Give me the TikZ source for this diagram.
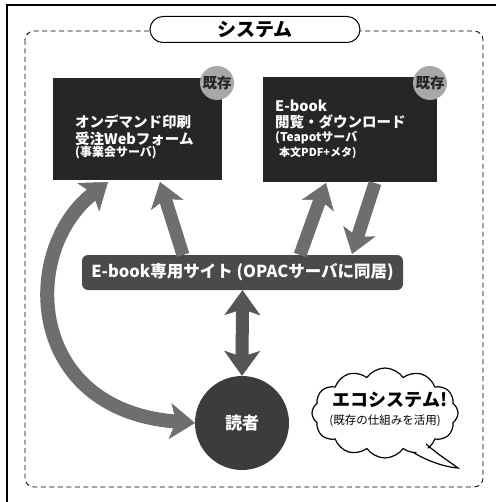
\documentclass[tikz,border=0pt]{standalone}
\usepackage{fontspec}
\setmainfont{Noto Sans CJK JP}
\usetikzlibrary{arrows.meta,shapes.symbols}
\definecolor{boxdark}{HTML}{262626}
\definecolor{bardark}{HTML}{4A4A4A}
\definecolor{arrowgray}{HTML}{6E6E6E}
\definecolor{arrowdark}{HTML}{555555}
\definecolor{badgegray}{HTML}{A8A8A8}
\tikzset{
  sysbox/.style={draw=none, fill=boxdark, inner sep=0pt},
  badge/.style={circle, fill=badgegray, minimum size=34pt, inner sep=0pt, font=\bfseries\fontsize{14.5}{14.5}\selectfont, text=black!85},
  wtext/.style={text=white, anchor=west, inner sep=0pt, font=\bfseries\fontsize{14.5}{15}\selectfont},
  wsmall/.style={text=white, anchor=west, inner sep=0pt, font=\bfseries\fontsize{12}{12}\selectfont},
  fatarrow/.style={line width=13pt, draw=arrowgray, -{Stealth[width=34pt,length=24pt,inset=6pt,line width=0.5pt]}},
  fatdouble/.style={line width=14pt, draw=arrowgray, {Stealth[width=36pt,length=25pt,inset=6pt,line width=0.5pt]}-{Stealth[width=36pt,length=25pt,inset=6pt,line width=0.5pt]}},
}
\begin{document}
\begin{tikzpicture}[x=1pt,y=-1pt]
\useasboundingbox (0,0) rectangle (495,502);
% outer frame
\draw[line width=1.6pt] (7,505) -- (7,5) -- (498,5);
% dashed container
\draw[dashed, dash pattern=on 5pt off 3.5pt, rounded corners=9pt, line width=0.8pt] (25,31) rectangle (483,487);
% title pill
\node[draw, line width=1pt, fill=white, rounded corners=13pt, minimum width=210pt, minimum height=26pt, inner sep=0pt, font=\bfseries\fontsize{19}{19}\selectfont] (title) at (255,29.5) {システム};

% boxes
\node[sysbox, minimum width=169pt, minimum height=102pt] (lbox) at (137.5,129) {};
\node[sysbox, minimum width=174pt, minimum height=105pt] (rbox) at (350,129.5) {};
\node[badge] (lbadge) at (217,83) {既存};
\node[badge] (rbadge) at (430,83) {既存};

\node[wtext] (l1) at (75,122) {オンデマンド印刷};
\node[wtext] (l2) at (75,138.5) {受注Webフォーム};
\node[wsmall] (l3) at (75,153) {(事業会サーバ)};

\node[wtext] (r1) at (275,106) {E-book};
\node[wtext] (r2) at (275,122) {閲覧・ダウンロード};
\node[wsmall] (r3) at (275,138) {(Teapotサーバ};
\node[text=white, anchor=west, inner sep=0pt, font=\bfseries\fontsize{11}{11}\selectfont] (r4) at (279,153) {本文PDF+メタ)};

% bar
\node[fill=bardark, rounded corners=6pt, minimum width=321pt, minimum height=35pt, inner sep=0pt, text=white, font=\bfseries\fontsize{16.5}{16.5}\selectfont] (bar) at (242.5,272.5) {E-book専用サイト (OPACサーバに同居)};

% reader
\node[circle, fill=boxdark!90!white, minimum size=94pt, inner sep=0pt, text=white, font=\bfseries\fontsize{17}{17}\selectfont] (reader) at (242,423) {読者};

% arrow anchors
\coordinate (a1s) at (183,255);
\coordinate (a1e) at (160,182);
\coordinate (a2s) at (300,255);
\coordinate (a2e) at (326,183);
\coordinate (a3s) at (375,183);
\coordinate (a3e) at (352,254);
\coordinate (cvs) at (108,182);
\coordinate (cve) at (195,423);

\draw[fatarrow] (a1s) -- (a1e);
\draw[fatarrow] (a2s) -- (a2e);
\draw[fatarrow] (a3s) -- (a3e);
\draw[fatdouble] (cvs) .. controls (20,250) and (25,410) .. (cve);
\draw[fatdouble, draw=arrowdark, line width=13pt] (bar.south) -- (reader.north);

% cloud
\node[cloud, cloud puffs=12, cloud puff arc=110, aspect=1.6, draw, line width=1.2pt, fill=white, minimum width=146pt, minimum height=90pt, inner sep=0pt] (cloud) at (385,413) {};
\fill[white] (424,446) .. controls (440,456) and (450,462) .. (458,468) .. controls (445,467) and (430,462) .. (416,452) -- cycle;
\draw[line width=1.2pt] (426,444) .. controls (440,456) and (450,462) .. (458,468) .. controls (445,467) and (430,462) .. (414,453);
\node[inner sep=0pt, font=\bfseries\fontsize{18}{18}\selectfont] (eco) at (390,400) {エコシステム!};
\node[inner sep=0pt, font=\fontsize{11.5}{11.5}\selectfont] (eco2) at (385,421) {(既存の仕組みを活用)};
\end{tikzpicture}
\end{document}
